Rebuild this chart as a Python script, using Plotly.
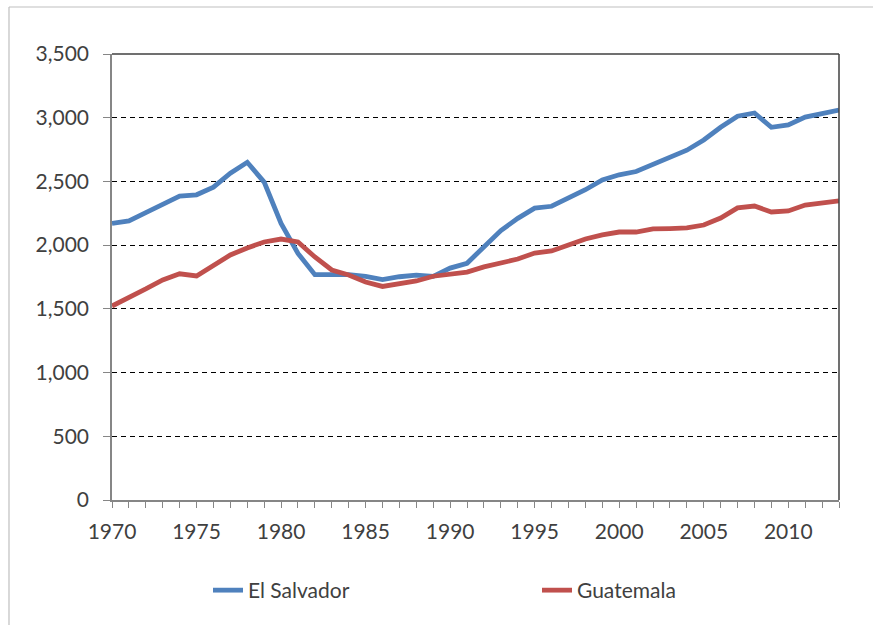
import plotly.graph_objects as go

years = list(range(1970, 2014))

el_salvador = [
    2170, 2190, 2255, 2320, 2385, 2395, 2455, 2565, 2650, 2495,
    2170, 1935, 1768, 1768, 1768, 1755, 1730, 1752, 1765, 1755,
    1820, 1858, 1985, 2115, 2210, 2290, 2305, 2370, 2435, 2512,
    2552, 2578, 2637, 2695, 2745, 2825, 2925, 3012, 3037, 2925,
    2943, 3005, 3037, 3060,
]

guatemala = [
    1522, 1585, 1656, 1727, 1775, 1758, 1836, 1923, 1978, 2025,
    2048, 2025, 1907, 1805, 1766, 1711, 1676, 1699, 1719, 1756,
    1774, 1789, 1829, 1860, 1891, 1938, 1954, 2001, 2048, 2080,
    2103, 2103, 2127, 2130, 2135, 2158, 2213, 2292, 2307, 2260,
    2268, 2315, 2331, 2347,
]

series = {"El Salvador": (el_salvador, "#4F81BD"), "Guatemala": (guatemala, "#C0504D")}

W, H = 873, 625
L, R, T, B = 112, 839, 54, 500

font = {"family": "Lato, 'Open Sans', sans-serif", "size": 21, "color": "#404040"}

fig = go.Figure()
for name, (vals, color) in series.items():
    fig.add_trace(
        go.Scatter(
            x=years,
            y=vals,
            name=name,
            mode="lines",
            line={"color": color, "width": 4.8},
        )
    )


def px_x(p):
    return (p - L) / (R - L)


def px_y(p):
    return (B - p) / (B - T)


fig.update_layout(
    width=W,
    height=H,
    margin={"l": L, "r": W - R, "t": T, "b": H - B, "autoexpand": False},
    paper_bgcolor="white",
    plot_bgcolor="white",
    font=font,
    showlegend=True,
    legend={
        "orientation": "h",
        "x": px_x(208),
        "xanchor": "left",
        "y": px_y(570),
        "yanchor": "top",
        "entrywidth": 284,
        "entrywidthmode": "pixels",
        "font": font,
        "bgcolor": "rgba(0,0,0,0)",
    },
    xaxis={
        "range": [1970, 2013],
        "tickmode": "linear",
        "tick0": 1970,
        "dtick": 5,
        "ticks": "outside",
        "ticklen": 6,
        "tickcolor": "#868686",
        "showline": True,
        "linecolor": "#868686",
        "linewidth": 1.5,
        "showgrid": False,
        "zeroline": False,
        "minor": {"ticks": "outside", "dtick": 1, "tick0": 1970, "ticklen": 6, "tickcolor": "#868686", "showgrid": False},
        "ticklabelstandoff": 6,
    },
    yaxis={
        "range": [0, 3500],
        "tickmode": "linear",
        "tick0": 0,
        "dtick": 500,
        "tickformat": ",",
        "ticks": "outside",
        "ticklen": 7,
        "tickcolor": "#868686",
        "showline": True,
        "linecolor": "#868686",
        "linewidth": 1.5,
        "showgrid": True,
        "gridcolor": "#000000",
        "gridwidth": 1.2,
        "griddash": "5px,4px",
        "zeroline": False,
        "ticklabelstandoff": 10,
    },
)

# plot-area top and right edges, and the outer chart frame
fig.add_shape(type="line", xref="paper", yref="paper", x0=0, x1=1, y0=1, y1=1,
              line={"color": "#404040", "width": 1.5})
fig.add_shape(type="line", xref="paper", yref="paper", x0=1, x1=1, y0=0, y1=1,
              line={"color": "#404040", "width": 1.5})
fig.add_shape(type="line", xref="paper", yref="paper", x0=px_x(9), x1=px_x(W + 5), y0=px_y(7), y1=px_y(7),
              line={"color": "#BFBFBF", "width": 1.2})
fig.add_shape(type="line", xref="paper", yref="paper", x0=px_x(9), x1=px_x(9), y0=px_y(7), y1=px_y(H + 5),
              line={"color": "#BFBFBF", "width": 1.2})

fig.write_html(
    "out.html",
    config={"displayModeBar": False},
    post_script="document.body.style.margin = '0';",
)
